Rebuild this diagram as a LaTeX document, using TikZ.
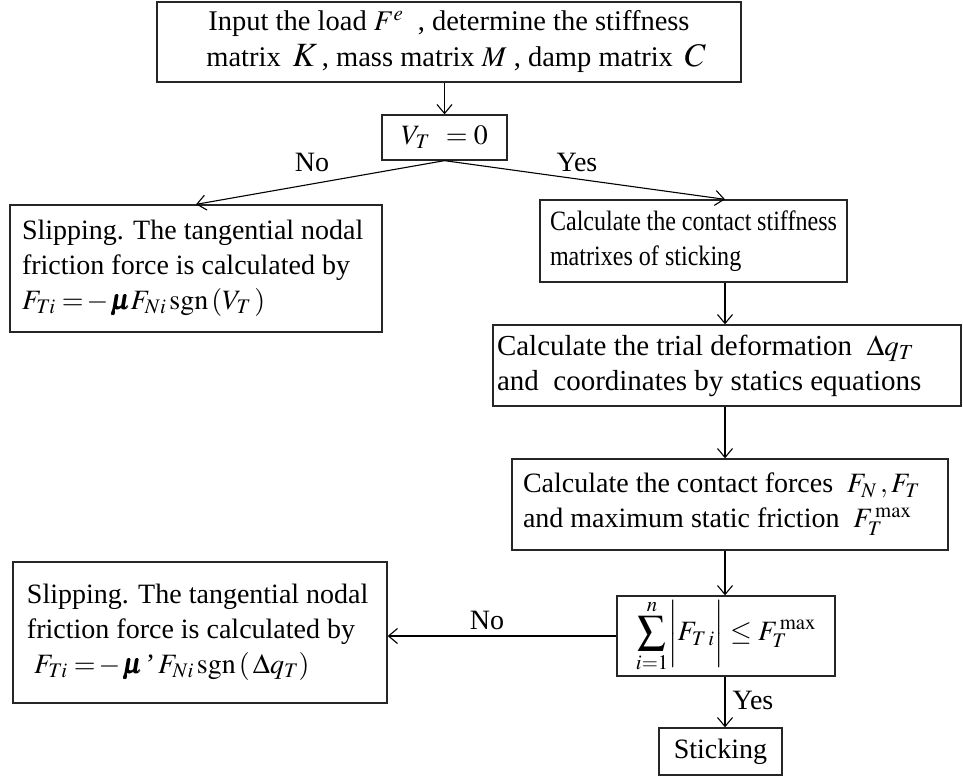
\documentclass[tikz,border=0pt]{standalone}
\usepackage{amsmath}
\usepackage{mathptmx}
\usepackage{fontspec}
\setmainfont{Liberation Serif}
\newfontfamily\condfont[FakeStretch=0.86]{Liberation Serif}
\usetikzlibrary{arrows.meta,calc}
\tikzset{
  box/.style={draw=black!85, line width=1.3pt, font=\fontsize{28}{35}\selectfont, inner ysep=0pt},
  lbox/.style={box, align=flush left},
  arr/.style={line width=1.1pt, -{Straight Barb[length=9pt,width=15pt,line width=1.1pt]}},
  lab/.style={font=\fontsize{28}{35}\selectfont, inner sep=0pt}
}
\newcommand{\bigK}{\mbox{\fontsize{34}{34}\selectfont$K$}}
\newcommand{\bigC}{\mbox{\fontsize{33}{33}\selectfont$C$}}
\begin{document}
\begin{tikzpicture}[x=1pt,y=-1pt]
\useasboundingbox (0,0) rectangle (963,778);
\coordinate (colx) at (725,0);
% boxes
\node[box, align=flush center, minimum width=584pt, minimum height=80pt, inner xsep=4pt, font=\fontsize{28.5}{36}\selectfont] (top) at (449,42)
  {Input the load $F^{e}$\ \ , determine the stiffness\\ \ \ matrix \,\bigK\,, mass matrix $M$ , damp matrix \,\bigC};
\node[box, minimum width=125pt, minimum height=45pt] (vt) at (444.5,137.5) {$V_{T}\;\,=0$};
\node[lbox, text width=348pt, inner xsep=12pt, minimum height=127pt] (left1) at (196,268.5)
  {Slipping. The tangential nodal\\ friction force is calculated by\\ $F_{Ti} =\!-\,\pmb{\mu} F_{Ni}\,\mathrm{sgn}\left(V_{T}\,\right)$};
\node[lbox, text width=287pt, inner xsep=10pt, minimum height=82pt, font=\fontsize{28}{35}\condfont] (right1) at (693.5,241)
  {Calculate the contact stiffness\\ matrixes of sticking};
\node[lbox, text width=460pt, inner xsep=4pt, minimum height=81pt, font=\fontsize{29}{35}\selectfont] (right2) at (727,365.5)
  {Calculate the trial deformation \ $\Delta q_{T}$\\ and \ coordinates by statics equations};
\node[lbox, text width=414pt, inner xsep=11pt, minimum height=91pt] (right3) at (730,504.5)
  {Calculate the contact forces \ $F_{N}\,, F_{T}$\\ and maximum static friction \ $F_{T}^{\,\max}$};
\node[box, minimum width=218pt, minimum height=80pt] (sum) at (726,636)
  {$\displaystyle\sum_{i=1}^{n}\biggl|F_{T\,i}\biggr|\le F_{T}^{\,\max}$};
\node[box, minimum width=123pt, minimum height=47pt] (stick) at (720.5,751.5) {Sticking};
\node[lbox, text width=346pt, inner xsep=14pt, minimum height=141pt] (left2) at (200,632.5)
  {Slipping. The tangential nodal\\ friction force is calculated by\\ \ $F_{Ti} =\!-\,\pmb{\mu}\,\text{'}\,F_{Ni}\,\mathrm{sgn}\left(\,\Delta q_{T}\right)$};
% connectors
\draw[arr] (top.south -| vt.north) -- (vt.north);
\draw[arr] (vt.south) -- (left1.north);
\draw[arr] (vt.south) -- (right1.north -| colx);
\draw[arr] (right1.south -| colx) -- (right2.north -| colx);
\draw[arr] (right2.south -| colx) -- (right3.north -| colx);
\draw[arr] (right3.south -| colx) -- (sum.north -| colx);
\draw[arr] (sum.south -| colx) -- (stick.north -| colx);
\draw[arr] (sum.west) -- (sum.west -| left2.east);
% labels
\node[lab] (no1) at (312,162) {No};
\node[lab] (yes1) at (577,162) {Yes};
\node[lab] (no2) at (487,620) {No};
\node[lab] (yes2) at (753,700) {Yes};
\end{tikzpicture}
\end{document}
